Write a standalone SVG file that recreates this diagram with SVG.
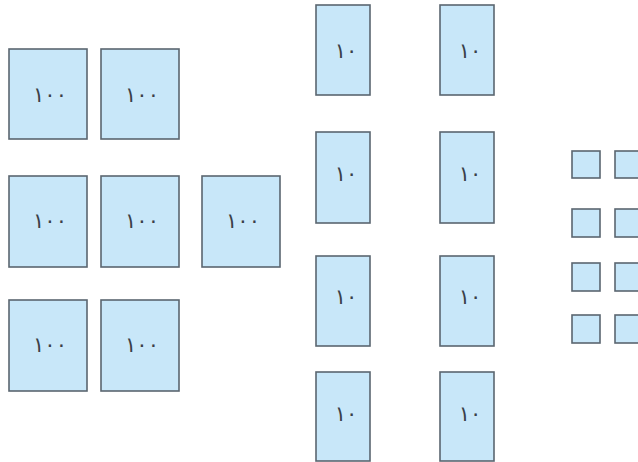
<svg xmlns="http://www.w3.org/2000/svg" width="638" height="462" viewBox="0 0 638 462">
<style>
.b{fill:#c8e7f9;stroke:#5b6670;stroke-width:1.6}
.t{font-family:"DejaVu Sans",sans-serif;font-size:21px;fill:#3a4048;text-anchor:middle;letter-spacing:5px}
</style>
<rect width="638" height="462" fill="#ffffff"/>
<g id="h1"><rect class="b" x="9" y="49" width="78" height="90"/><text class="t" x="50" y="102">١٠٠</text></g>
<g id="h2"><rect class="b" x="101" y="49" width="78" height="90"/><text class="t" x="142" y="102">١٠٠</text></g>
<g id="h3"><rect class="b" x="9" y="176" width="78" height="91"/><text class="t" x="50" y="228">١٠٠</text></g>
<g id="h4"><rect class="b" x="101" y="176" width="78" height="91"/><text class="t" x="142" y="228">١٠٠</text></g>
<g id="h5"><rect class="b" x="202" y="176" width="78" height="91"/><text class="t" x="243" y="228">١٠٠</text></g>
<g id="h6"><rect class="b" x="9" y="300" width="78" height="91"/><text class="t" x="50" y="352">١٠٠</text></g>
<g id="h7"><rect class="b" x="101" y="300" width="78" height="91"/><text class="t" x="142" y="352">١٠٠</text></g>

<g id="t1"><rect class="b" x="316" y="5" width="54" height="90"/><text class="t" x="346" y="58">١٠</text></g>
<g id="t2"><rect class="b" x="440" y="5" width="54" height="90"/><text class="t" x="470" y="58">١٠</text></g>
<g id="t3"><rect class="b" x="316" y="132" width="54" height="91"/><text class="t" x="346" y="181">١٠</text></g>
<g id="t4"><rect class="b" x="440" y="132" width="54" height="91"/><text class="t" x="470" y="181">١٠</text></g>
<g id="t5"><rect class="b" x="316" y="256" width="54" height="90"/><text class="t" x="346" y="304">١٠</text></g>
<g id="t6"><rect class="b" x="440" y="256" width="54" height="90"/><text class="t" x="470" y="304">١٠</text></g>
<g id="t7"><rect class="b" x="316" y="372" width="54" height="89"/><text class="t" x="346" y="421">١٠</text></g>
<g id="t8"><rect class="b" x="440" y="372" width="54" height="89"/><text class="t" x="470" y="421">١٠</text></g>

<g id="u1"><rect class="b" x="572" y="151" width="28" height="27"/></g>
<g id="u2"><rect class="b" x="615" y="151" width="28" height="27"/></g>
<g id="u3"><rect class="b" x="572" y="209" width="28" height="28"/></g>
<g id="u4"><rect class="b" x="615" y="209" width="28" height="28"/></g>
<g id="u5"><rect class="b" x="572" y="263" width="28" height="28"/></g>
<g id="u6"><rect class="b" x="615" y="263" width="28" height="28"/></g>
<g id="u7"><rect class="b" x="572" y="315" width="28" height="28"/></g>
<g id="u8"><rect class="b" x="615" y="315" width="28" height="28"/></g>
<g id="connectors"></g>
</svg>
